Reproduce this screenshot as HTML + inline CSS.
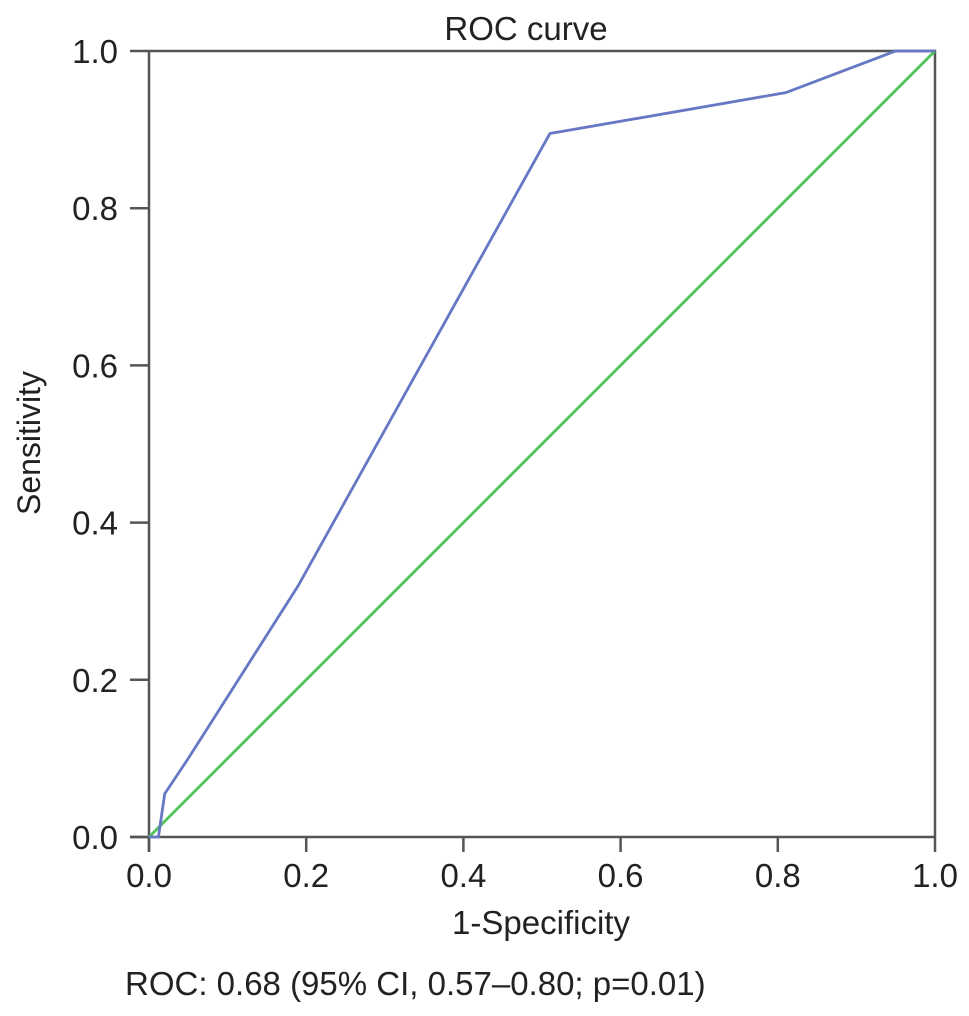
<!DOCTYPE html>
<html><head><meta charset="utf-8"><style>
html,body{margin:0;padding:0;background:#fff;}
svg{display:block;font-family:"Liberation Sans",Arial,sans-serif;}
</style></head><body>
<svg width="969" height="1016" viewBox="0 0 969 1016">
<text x="526" y="40" font-size="33" text-anchor="middle" fill="#222">ROC curve</text>
<g id="axes"></g>
<g id="series"></g>
<text x="541" y="934" font-size="33" text-anchor="middle" fill="#222">1-Specificity</text>
<text transform="translate(40,443) rotate(-90)" font-size="32" text-anchor="middle" fill="#222">Sensitivity</text>
<text x="125" y="995" font-size="33" fill="#222">ROC: 0.68 (95% CI, 0.57–0.80; p=0.01)</text>
</svg>
<script>
const xTicks=[0,0.2,0.4,0.6,0.8,1.0];
const yTicks=[0,0.2,0.4,0.6,0.8,1.0];
const rocFpr=[0,0.012,0.02,0.05,0.19,0.51,0.81,0.95,1.0];
const rocTpr=[0,0,0.055,0.1,0.32,0.895,0.947,1.0,1.0];
const refFpr=[0,1];
const refTpr=[0,1];
const NS='http://www.w3.org/2000/svg';
const X0=149,X1=935,Y0=837,Y1=51;
const sx=v=>X0+v*(X1-X0), sy=v=>Y0-v*(Y0-Y1);
function mk(tag,attrs,parent){const e=document.createElementNS(NS,tag);for(const k in attrs)e.setAttribute(k,attrs[k]);parent.appendChild(e);return e;}
const axes=document.getElementById('axes');
const frame=mk('path',{d:`M${X0},${Y1}H${X1}V${Y0}`,fill:'none',stroke:'#555','stroke-width':2.5},axes);


const xa=mk('line',{x1:X0-19,y1:Y0,x2:X1,y2:Y0,stroke:'#555','stroke-width':2.5},axes);


const ya=mk('line',{x1:X0,y1:Y1,x2:X0,y2:Y0+15,stroke:'#555','stroke-width':2.5},axes);


xTicks.forEach(v=>{
 const t=mk('line',{x1:sx(v),y1:Y0,x2:sx(v),y2:Y0+15,stroke:'#555','stroke-width':2.5},axes);
 
 
 const l=mk('text',{x:sx(v),y:Y0+50,'font-size':33,'text-anchor':'middle',fill:'#222'},axes);
 l.textContent=v.toFixed(1);
 
 
});
yTicks.forEach(v=>{
 const t=mk('line',{x1:X0-19,y1:sy(v),x2:X0,y2:sy(v),stroke:'#555','stroke-width':2.5},axes);
 
 
 const l=mk('text',{x:X0-31,y:sy(v)+12,'font-size':33,'text-anchor':'end',fill:'#222'},axes);
 l.textContent=v.toFixed(1);
 
 
});
const ser=document.getElementById('series');
const ref=mk('polyline',{points:refFpr.map((v,i)=>sx(v)+','+sy(refTpr[i])).join(' '),fill:'none',stroke:'#4fc35a','stroke-width':2.8},ser);


const roc=mk('polyline',{points:rocFpr.map((v,i)=>sx(v)+','+sy(rocTpr[i])).join(' '),fill:'none',stroke:'#6677c4','stroke-width':2.8,'stroke-linejoin':'round'},ser);


</script>
</body></html>
